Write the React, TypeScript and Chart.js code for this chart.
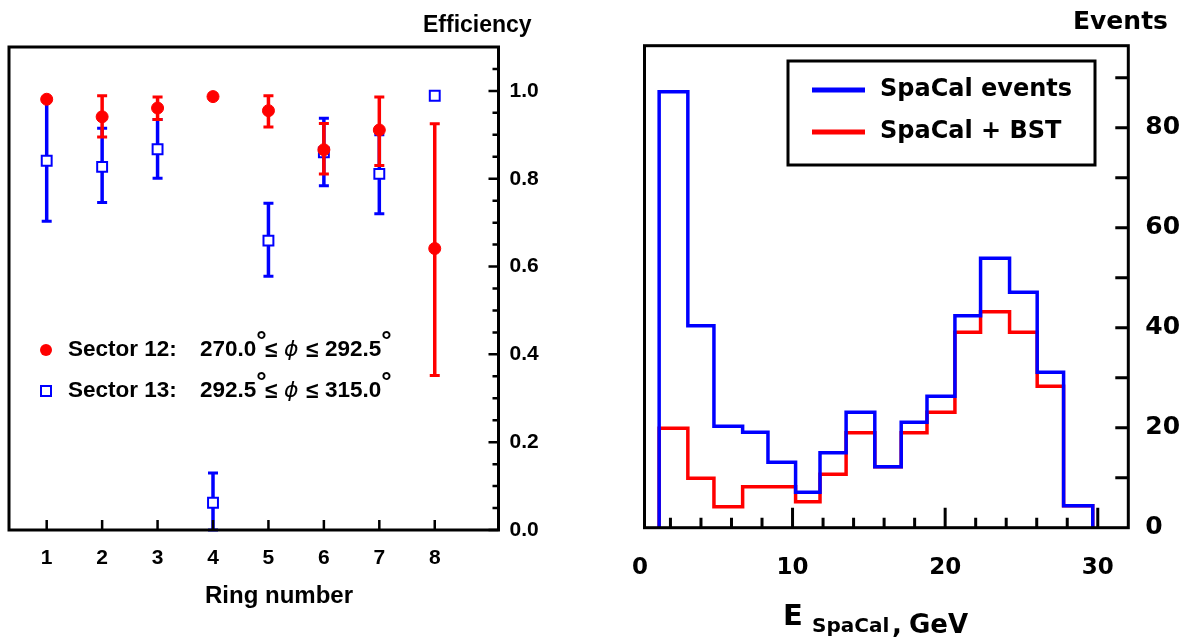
import React, { useEffect, useRef } from "react";
import { Chart, registerables } from "chart.js";
Chart.register(...registerables);

// ---------- Left panel data ----------
const rings = [1, 2, 3, 4, 5, 6, 7, 8];
const sector12Eff = [0.981, 0.941, 0.961, 0.987, 0.955, 0.866, 0.911, 0.641];
const sector12Low = [0.981, 0.895, 0.935, 0.987, 0.918, 0.811, 0.83, 0.352];
const sector12High = [0.981, 0.989, 0.986, 0.987, 0.989, 0.926, 0.986, 0.925];
const sector13Eff = [0.841, 0.827, 0.867, 0.062, 0.659, 0.86, 0.811, 0.989];
const sector13Low = [0.703, 0.746, 0.801, 0.0, 0.578, 0.784, 0.72, 0.989];
const sector13High = [0.98, 0.915, 0.935, 0.13, 0.744, 0.938, 0.9, 0.989];
const effTicks = [0, 0.2, 0.4, 0.6, 0.8, 1.0];
const effMinorTicks = [0.05, 0.1, 0.15, 0.25, 0.3, 0.35, 0.45, 0.5, 0.55, 0.65, 0.7, 0.75, 0.85, 0.9, 0.95, 1.05];
const ringTicks = [1, 2, 3, 4, 5, 6, 7, 8];
const sectorLegend = [
  { name: "Sector 12:", from: "270.0", to: "292.5" },
  { name: "Sector 13:", from: "292.5", to: "315.0" },
];

// ---------- Right panel data ----------
const binEdges = [1.26, 3.14, 4.85, 6.73, 8.39, 10.2, 11.8, 13.51, 15.39, 17.12, 18.81, 20.64, 22.32, 24.22, 26.03, 27.76, 29.67];
const spacalEvents = [87.2, 40.4, 20.3, 19.1, 13.1, 7.1, 15.0, 23.1, 12.2, 21.1, 26.3, 42.4, 53.9, 47.1, 31.1, 4.4];
const spacalBst = [19.9, 9.9, 4.2, 8.2, 8.2, 5.2, 10.7, 19.0, 12.2, 19.0, 23.1, 39.1, 43.2, 39.1, 28.3, 4.4];
const histLabels = ["SpaCal events", "SpaCal + BST"];
const energyTicks = [0, 10, 20, 30];
const energyMinorTicks = [2, 4, 6, 8, 12, 14, 16, 18, 22, 24, 26, 28];
const eventTicks = [0, 20, 40, 60, 80];
const eventAllTicks = [10, 20, 30, 40, 50, 60, 70, 80, 90];

const RED = "#ff0000";
const BLUE = "#0000ff";
const ARIAL = '"Liberation Sans", Arial, sans-serif';
const VERD = '"DejaVu Sans", Verdana, sans-serif';

function histPoints(edges: number[], vals: number[]) {
  const pts = [{ x: edges[0], y: 0 }];
  vals.forEach((v, i) => pts.push({ x: edges[i], y: v }));
  pts.push({ x: edges[edges.length - 1], y: vals[vals.length - 1] });
  pts.push({ x: edges[edges.length - 1], y: 0 });
  return pts;
}

const errorSets = [
  { low: sector12Low, high: sector12High, color: RED },
  { low: sector13Low, high: sector13High, color: BLUE },
];

const errorBarPlugin = {
  id: "errorBars",
  beforeDatasetDraw(chart: any, args: any) {
    const eb = errorSets[args.index];
    if (!eb) return;
    const { ctx } = chart;
    const x = chart.scales.x;
    const y = chart.scales.y;
    ctx.save();
    ctx.strokeStyle = eb.color;
    rings.forEach((r, i) => {
      const lo = eb.low[i];
      const hi = eb.high[i];
      if (hi - lo < 1e-6) return;
      const px = x.getPixelForValue(r);
      const y1 = y.getPixelForValue(lo);
      const y2 = y.getPixelForValue(hi);
      ctx.lineWidth = 3.5;
      ctx.beginPath();
      ctx.moveTo(px, y1);
      ctx.lineTo(px, y2);
      ctx.stroke();
      ctx.lineWidth = 3;
      ctx.beginPath();
      ctx.moveTo(px - 5, y1);
      ctx.lineTo(px + 5, y1);
      ctx.moveTo(px - 5, y2);
      ctx.lineTo(px + 5, y2);
      ctx.stroke();
    });
    ctx.restore();
  },
};

const leftDecor = {
  id: "leftDecor",
  afterDraw(chart: any) {
    const { ctx, chartArea: a } = chart;
    const x = chart.scales.x;
    const y = chart.scales.y;
    ctx.save();
    ctx.strokeStyle = "#000";
    ctx.lineWidth = 3;
    ctx.strokeRect(a.left, a.top, a.right - a.left, a.bottom - a.top);
    ctx.lineWidth = 2.5;
    ctx.beginPath();
    ringTicks.forEach((r) => {
      const px = x.getPixelForValue(r);
      ctx.moveTo(px, a.bottom);
      ctx.lineTo(px, a.bottom - 10);
    });
    effTicks.forEach((v) => {
      const py = y.getPixelForValue(v);
      ctx.moveTo(a.right, py);
      ctx.lineTo(a.right - 10, py);
    });
    effMinorTicks.forEach((v) => {
      const py = y.getPixelForValue(v);
      ctx.moveTo(a.right, py);
      ctx.lineTo(a.right - 6, py);
    });
    ctx.stroke();

    // titles
    ctx.fillStyle = "#000";
    ctx.textBaseline = "middle";
    ctx.textAlign = "left";
    ctx.font = `bold 23px ${ARIAL}`;
    ctx.fillText("Efficiency", 423, 26);
    ctx.textAlign = "center";
    ctx.font = `bold 24px ${ARIAL}`;
    ctx.fillText("Ring number", 279, 596);

    // legend
    const rowsY = [350, 391];
    ctx.fillStyle = RED;
    ctx.beginPath();
    ctx.arc(46, rowsY[0], 6, 0, Math.PI * 2);
    ctx.fill();
    ctx.fillStyle = "#fff";
    ctx.strokeStyle = BLUE;
    ctx.lineWidth = 2;
    ctx.fillRect(41, rowsY[1] - 5, 10, 10);
    ctx.strokeRect(41, rowsY[1] - 5, 10, 10);

    ctx.fillStyle = "#000";
    ctx.textAlign = "left";
    const main = `bold 22.5px ${ARIAL}`;
    const sup = `bold 26px ${ARIAL}`;
    const phi = `italic 22px ${VERD}`;
    sectorLegend.forEach((row, i) => {
      const yy = rowsY[i];
      const put = (t: string, f: string, px: number, dy: number) => {
        ctx.font = f;
        ctx.fillText(t, px, yy + dy);
        return px + ctx.measureText(t).width;
      };
      put(row.name, main, 68, 0);
      const e1 = put(row.from, main, 200, 0);
      put("°", sup, e1, -8);
      put("≤", main, 265, 1);
      put("ϕ", phi, 284, 0);
      put("≤", main, 306, 1);
      const e2 = put(row.to, main, 325, 0);
      put("°", sup, e2, -8);
    });
    ctx.restore();
  },
};

const rightDecor = {
  id: "rightDecor",
  afterDraw(chart: any) {
    const { ctx, chartArea: a } = chart;
    const x = chart.scales.x;
    const y = chart.scales.y;
    ctx.save();
    ctx.strokeStyle = "#000";
    ctx.lineWidth = 3;
    ctx.strokeRect(a.left, a.top, a.right - a.left, a.bottom - a.top);
    ctx.lineWidth = 3;
    ctx.beginPath();
    energyTicks.forEach((v) => {
      const px = x.getPixelForValue(v);
      if (px < a.left + 2) return;
      ctx.moveTo(px, a.bottom);
      ctx.lineTo(px, a.bottom - 20);
    });
    energyMinorTicks.forEach((v) => {
      const px = x.getPixelForValue(v);
      ctx.moveTo(px, a.bottom);
      ctx.lineTo(px, a.bottom - 10);
    });
    eventAllTicks.forEach((v) => {
      const py = y.getPixelForValue(v);
      ctx.moveTo(a.right, py);
      ctx.lineTo(a.right - 13, py);
    });
    ctx.stroke();

    // legend box
    ctx.lineWidth = 3;
    ctx.strokeRect(188, 61, 307, 104);
    const colors = [BLUE, RED];
    const ly = [90, 132];
    histLabels.forEach((lab, i) => {
      ctx.strokeStyle = colors[i];
      ctx.lineWidth = 5;
      ctx.beginPath();
      ctx.moveTo(212, ly[i]);
      ctx.lineTo(265, ly[i]);
      ctx.stroke();
      ctx.fillStyle = "#000";
      ctx.font = `bold 24px ${VERD}`;
      ctx.textBaseline = "middle";
      ctx.textAlign = "left";
      ctx.fillText(lab, 280, ly[i]);
    });

    // titles
    ctx.fillStyle = "#000";
    ctx.textBaseline = "middle";
    ctx.textAlign = "left";
    ctx.font = `bold 25px ${VERD}`;
    ctx.fillText("Events", 473, 22);

    ctx.textBaseline = "alphabetic";
    ctx.font = `bold 29px ${VERD}`;
    ctx.fillText("E", 183, 625);
    ctx.font = `bold 20px ${VERD}`;
    ctx.fillText("SpaCal", 212, 632);
    ctx.font = `bold 26px ${VERD}`;
    ctx.fillText(",", 292, 633);
    ctx.fillText("GeV", 309, 633);
    ctx.restore();
  },
};

export default function App() {
  const leftRef = useRef<HTMLCanvasElement>(null);
  const rightRef = useRef<HTMLCanvasElement>(null);

  useEffect(() => {
    const left = new Chart(leftRef.current as HTMLCanvasElement, {
      type: "scatter",
      data: {
        datasets: [
          {
            label: "Sector 12",
            data: rings.map((r, i) => ({ x: r, y: sector12Eff[i] })),
            pointStyle: "circle",
            pointRadius: 6,
            backgroundColor: RED,
            borderColor: RED,
            borderWidth: 1,
          },
          {
            label: "Sector 13",
            data: rings.map((r, i) => ({ x: r, y: sector13Eff[i] })),
            pointStyle: "rect",
            pointRadius: 7,
            backgroundColor: "#ffffff",
            borderColor: BLUE,
            borderWidth: 2,
          },
        ],
      },
      options: {
        animation: false,
        responsive: true,
        maintainAspectRatio: false,
        layout: { padding: { left: 9, top: 47, right: 0, bottom: 0 } },
        plugins: { legend: { display: false }, tooltip: { enabled: false } },
        scales: {
          x: {
            type: "linear",
            min: 0.32,
            max: 9.15,
            grid: { display: false, drawTicks: false },
            border: { display: false },
            ticks: { padding: 16, color: "#000", font: { family: ARIAL, size: 21, weight: "bold" } },
            afterBuildTicks: (ax: any) => {
              ax.ticks = ringTicks.map((v) => ({ value: v }));
            },
            afterFit: (ax: any) => {
              ax.height = 112;
            },
          },
          y: {
            type: "linear",
            position: "right",
            min: 0,
            max: 1.1,
            grid: { display: false, drawTicks: false },
            border: { display: false },
            ticks: {
              padding: 11,
              color: "#000",
              font: { family: ARIAL, size: 21, weight: "bold" },
              callback: (v: any) => Number(v).toFixed(1),
            },
            afterBuildTicks: (ax: any) => {
              ax.ticks = effTicks.map((v) => ({ value: v }));
            },
            afterFit: (ax: any) => {
              ax.width = 101.5;
            },
          },
        },
      } as any,
      plugins: [errorBarPlugin, leftDecor],
    });

    const right = new Chart(rightRef.current as HTMLCanvasElement, {
      type: "line",
      data: {
        datasets: [
          {
            label: histLabels[0],
            data: histPoints(binEdges, spacalEvents),
            stepped: "before",
            borderColor: BLUE,
            borderWidth: 3.5,
            pointRadius: 0,
            fill: false,
          },
          {
            label: histLabels[1],
            data: histPoints(binEdges, spacalBst),
            stepped: "before",
            borderColor: RED,
            borderWidth: 3.5,
            pointRadius: 0,
            fill: false,
          },
        ],
      },
      options: {
        animation: false,
        responsive: true,
        maintainAspectRatio: false,
        layout: { padding: { left: 44.5, top: 45.7, right: 0, bottom: 0 } },
        plugins: { legend: { display: false }, tooltip: { enabled: false } },
        scales: {
          x: {
            type: "linear",
            min: 0.3,
            max: 32,
            grid: { display: false, drawTicks: false },
            border: { display: false },
            ticks: { padding: 27, color: "#000", font: { family: VERD, size: 23, weight: "bold" } },
            afterBuildTicks: (ax: any) => {
              ax.ticks = energyTicks.map((v) => ({ value: v }));
            },
            afterFit: (ax: any) => {
              ax.height = 114.3;
            },
          },
          y: {
            type: "linear",
            position: "right",
            min: 0,
            max: 96.4,
            grid: { display: false, drawTicks: false },
            border: { display: false },
            ticks: { padding: 17, color: "#000", font: { family: VERD, size: 25, weight: "bold" } },
            afterBuildTicks: (ax: any) => {
              ax.ticks = eventTicks.map((v) => ({ value: v }));
            },
            afterFit: (ax: any) => {
              ax.width = 60.7;
            },
          },
        },
      } as any,
      plugins: [rightDecor],
    });

    return () => {
      left.destroy();
      right.destroy();
    };
  }, []);

  return (
    <div style={{ position: "fixed", left: 0, top: 0, width: 1189, height: 642, background: "#ffffff" }}>
      <div style={{ position: "absolute", left: 0, top: 0, width: 600, height: 642 }}>
        <canvas ref={leftRef} />
      </div>
      <div style={{ position: "absolute", left: 600, top: 0, width: 589, height: 642 }}>
        <canvas ref={rightRef} />
      </div>
    </div>
  );
}
